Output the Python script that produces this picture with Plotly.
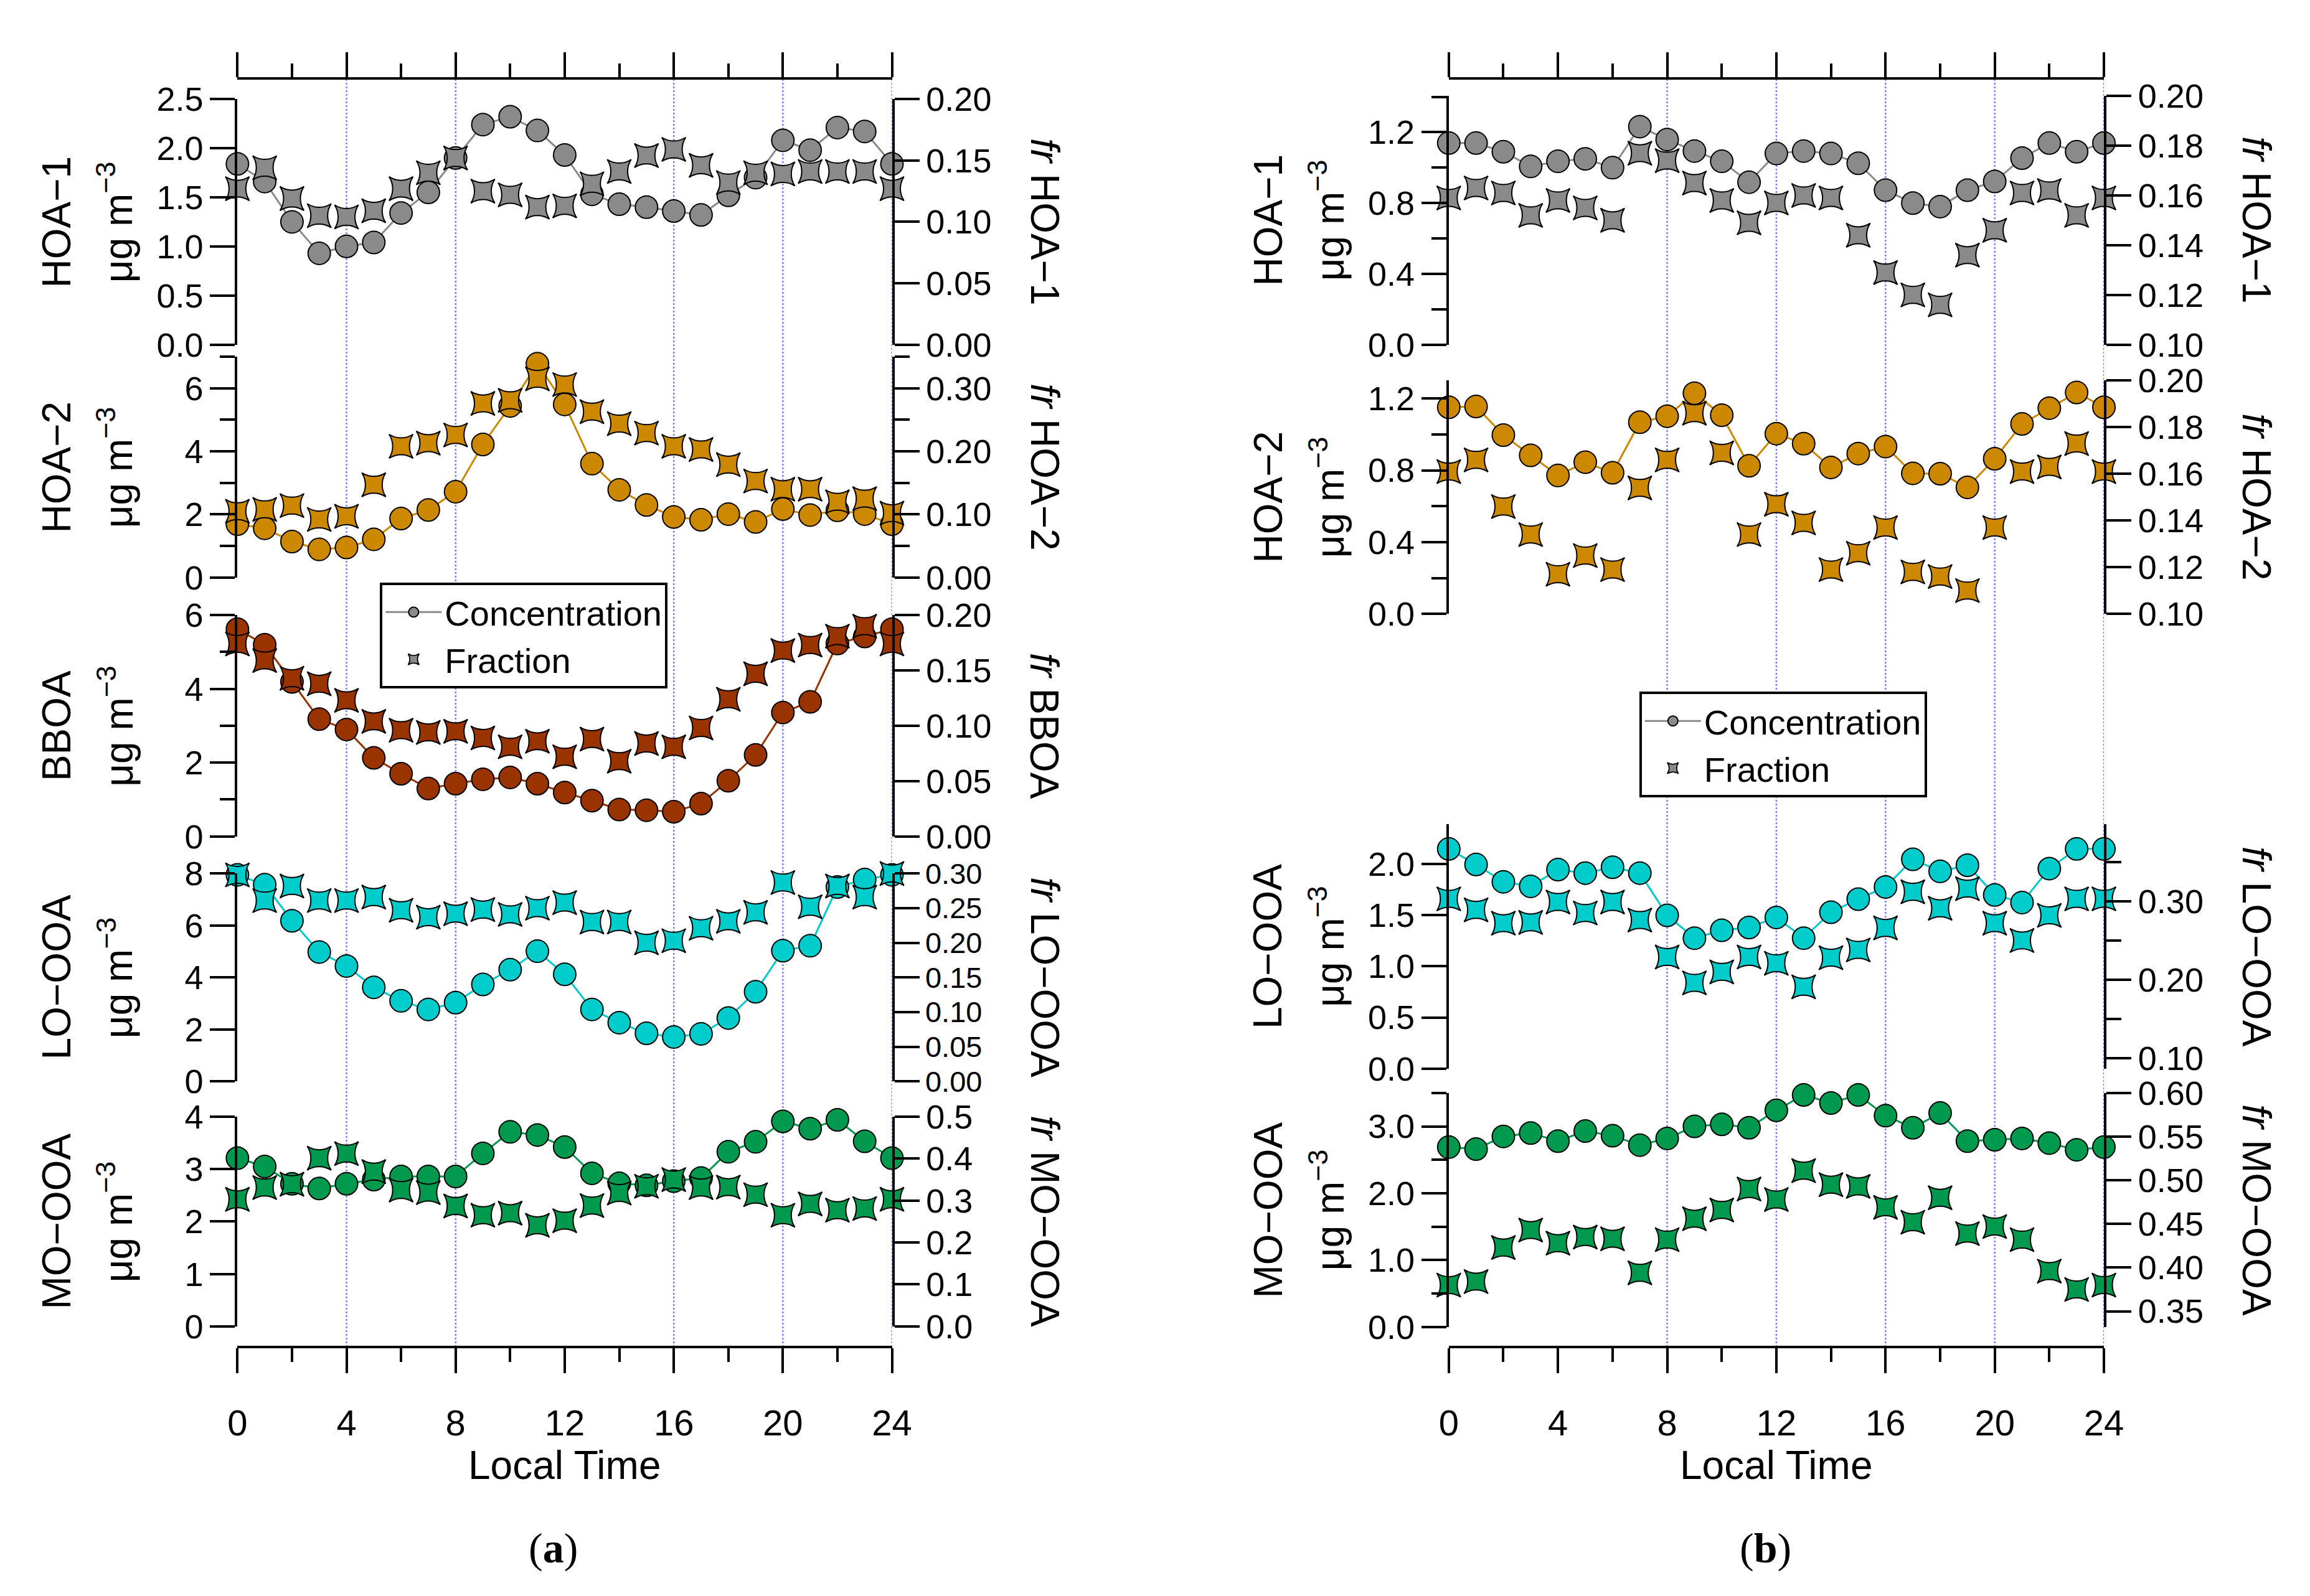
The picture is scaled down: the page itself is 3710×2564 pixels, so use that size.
import plotly.graph_objects as go

W, H = 3710, 2564

HOURS = list(range(25))

# ---- panel (a) ----
A_HOA1_CONC = [1.84, 1.66, 1.25, 0.93, 1.00, 1.04, 1.34, 1.55, 1.90, 2.24, 2.32, 2.18, 1.93,
               1.53, 1.43, 1.40, 1.36, 1.32, 1.52, 1.70, 2.08, 1.98, 2.21, 2.17, 1.84]
A_HOA1_FRAC = [0.127, 0.144, 0.119, 0.105, 0.104, 0.109, 0.127, 0.140, 0.152, 0.125, 0.122, 0.112, 0.113,
               0.131, 0.141, 0.154, 0.159, 0.146, 0.132, 0.140, 0.139, 0.141, 0.141, 0.141, 0.127]
A_HOA2_CONC = [1.69, 1.56, 1.14, 0.89, 0.95, 1.21, 1.87, 2.14, 2.72, 4.22, 5.44, 6.78, 5.49,
               3.61, 2.78, 2.30, 1.92, 1.83, 2.01, 1.76, 2.17, 1.98, 2.13, 2.01, 1.69]
A_HOA2_FRAC = [0.105, 0.108, 0.114, 0.092, 0.097, 0.147, 0.208, 0.213, 0.226, 0.276, 0.281, 0.315, 0.306,
               0.263, 0.244, 0.229, 0.208, 0.203, 0.179, 0.153, 0.140, 0.140, 0.120, 0.125, 0.102]
A_BBOA_CONC = [5.62, 5.20, 4.19, 3.18, 2.90, 2.13, 1.70, 1.30, 1.43, 1.55, 1.60, 1.43, 1.19,
               0.97, 0.73, 0.71, 0.67, 0.89, 1.51, 2.21, 3.36, 3.65, 5.23, 5.42, 5.62]
A_BBOA_FRAC = [0.174, 0.159, 0.143, 0.138, 0.123, 0.104, 0.096, 0.094, 0.095, 0.089, 0.081, 0.086, 0.072,
               0.088, 0.068, 0.084, 0.081, 0.098, 0.124, 0.147, 0.168, 0.173, 0.181, 0.190, 0.174]
A_LOOOA_CONC = [7.95, 7.57, 6.18, 4.98, 4.44, 3.62, 3.10, 2.77, 3.03, 3.73, 4.30, 5.01, 4.12,
                2.77, 2.26, 1.85, 1.71, 1.83, 2.44, 3.45, 5.03, 5.22, 7.48, 7.77, 7.95]
A_LOOOA_FRAC = [0.298, 0.261, 0.282, 0.261, 0.261, 0.266, 0.247, 0.237, 0.242, 0.248, 0.241, 0.250, 0.258,
                0.230, 0.230, 0.200, 0.203, 0.221, 0.231, 0.244, 0.287, 0.252, 0.282, 0.266, 0.300]
A_MOOOA_CONC = [3.21, 3.05, 2.72, 2.63, 2.72, 2.80, 2.86, 2.86, 2.86, 3.30, 3.71, 3.65, 3.42,
                2.92, 2.73, 2.69, 2.77, 2.83, 3.33, 3.52, 3.91, 3.77, 3.94, 3.53, 3.21]
A_MOOOA_FRAC = [0.303, 0.331, 0.339, 0.401, 0.412, 0.369, 0.325, 0.319, 0.287, 0.265, 0.270, 0.241, 0.252,
                0.288, 0.318, 0.334, 0.350, 0.331, 0.332, 0.314, 0.265, 0.292, 0.277, 0.281, 0.303]

# ---- panel (b) ----
B_HOA1_CONC = [1.139, 1.139, 1.090, 1.007, 1.036, 1.050, 1.000, 1.232, 1.159, 1.094, 1.036, 0.918, 1.080,
               1.094, 1.080, 1.025, 0.873, 0.800, 0.780, 0.873, 0.922, 1.054, 1.139, 1.090, 1.139]
B_HOA1_FRAC = [0.159, 0.163, 0.161, 0.152, 0.158, 0.155, 0.150, 0.177, 0.174, 0.165, 0.158, 0.149, 0.157,
               0.160, 0.159, 0.144, 0.129, 0.120, 0.116, 0.136, 0.146, 0.161, 0.162, 0.152, 0.159]
B_HOA2_CONC = [1.151, 1.155, 0.996, 0.883, 0.771, 0.845, 0.786, 1.068, 1.101, 1.229, 1.107, 0.825, 1.004,
               0.948, 0.816, 0.893, 0.932, 0.783, 0.781, 0.705, 0.864, 1.058, 1.146, 1.233, 1.151]
B_HOA2_FRAC = [0.161, 0.166, 0.146, 0.134, 0.117, 0.125, 0.119, 0.154, 0.166, 0.186, 0.169, 0.134, 0.147,
               0.139, 0.119, 0.126, 0.137, 0.118, 0.116, 0.110, 0.137, 0.161, 0.163, 0.173, 0.161]
B_LOOOA_CONC = [2.145, 1.993, 1.824, 1.780, 1.943, 1.909, 1.966, 1.909, 1.497, 1.274, 1.351, 1.378, 1.476,
                1.274, 1.527, 1.655, 1.774, 2.044, 1.926, 1.986, 1.696, 1.622, 1.953, 2.145, 2.145]
B_LOOOA_FRAC = [0.303, 0.289, 0.272, 0.273, 0.299, 0.285, 0.299, 0.276, 0.229, 0.196, 0.210, 0.229, 0.221,
                0.191, 0.228, 0.238, 0.266, 0.312, 0.291, 0.316, 0.272, 0.250, 0.282, 0.303, 0.303]
B_MOOOA_CONC = [2.69, 2.66, 2.85, 2.90, 2.78, 2.93, 2.86, 2.72, 2.82, 3.00, 3.03, 2.98, 3.24,
                3.47, 3.35, 3.47, 3.16, 2.98, 3.20, 2.78, 2.80, 2.82, 2.75, 2.65, 2.69]
B_MOOOA_FRAC = [0.380, 0.384, 0.423, 0.443, 0.428, 0.435, 0.433, 0.394, 0.432, 0.456, 0.466, 0.490, 0.478,
                0.511, 0.495, 0.493, 0.469, 0.452, 0.480, 0.439, 0.447, 0.432, 0.396, 0.375, 0.380]

X_TICKS = [0, 4, 8, 12, 16, 20, 24]
GRID_A = [4, 8, 16, 20, 24]   # dotted hour lines drawn in (a)
GRID_B = [8, 12, 16, 20, 24]  # dotted hour lines drawn in (b)

COLORS = {"HOA−1": "#8a8a8a", "HOA−2": "#cc8800", "BBOA": "#993300",
          "LO−OOA": "#00cccc", "MO−OOA": "#00994d"}

FONT = "Liberation Sans, Arial, sans-serif"
TICK_SIZE = 54
TITLE_SIZE = 64


def fx(p):
    return p / W


def fy(p):
    return 1 - p / H


fig = go.Figure()
lay = {}
notes = []
shapes = []


def yaxis_cfg(top, bot, rng, dtick, tick0, minor, fmt, side, overlay=None, fsize=TICK_SIZE):
    cfg = dict(domain=[fy(bot), fy(top)], range=rng, dtick=dtick, tick0=tick0,
               tickformat=fmt, side=side, showline=True, linecolor="black",
               linewidth=4, ticks="outside", ticklen=40, tickwidth=4, tickcolor="black",
               showgrid=False, zeroline=False,
               tickfont=dict(family=FONT, size=fsize, color="black"))
    if minor:
        cfg["minor"] = dict(dtick=minor, tick0=tick0, ticks="outside", ticklen=24,
                            tickwidth=4, tickcolor="black", showgrid=False)
    if overlay:
        cfg["overlaying"] = overlay
    return cfg


def add_panel(col, n, name, conc, frac, top, bot, left, right, legend=None, rsize=TICK_SIZE):
    xref, xl, xr = col
    yl = "y" if n == 1 else f"y{n}"
    yr = f"y{n + 1}"
    kl = "yaxis" if n == 1 else f"yaxis{n}"
    kr = f"yaxis{n + 1}"
    lay[kl] = yaxis_cfg(top, bot, *left, side="left")
    lay[kl]["anchor"] = xref
    lay[kr] = yaxis_cfg(top, bot, *right, side="right", overlay=yl, fsize=rsize)
    lay[kr]["anchor"] = xref
    c = COLORS[name]
    fig.add_trace(go.Scatter(
        x=HOURS, y=conc, xaxis=xref, yaxis=yl, mode="lines+markers", name="Concentration",
        line=dict(color=c, width=3),
        marker=dict(symbol="circle", size=36, color=c, line=dict(color="black", width=2)),
        cliponaxis=False, showlegend=legend is not None, legend=legend or "legend"))
    fig.add_trace(go.Scatter(
        x=HOURS, y=frac, xaxis=xref, yaxis=yr, mode="markers", name="Fraction",
        marker=dict(symbol="star-square", size=35, color=c, line=dict(color="black", width=2)),
        cliponaxis=False, showlegend=legend is not None, legend=legend or "legend"))
    mid = fy((top + bot) / 2)
    notes.append(dict(x=fx(xl - 294), y=mid, text=name, textangle=-90,
                      font=dict(family=FONT, size=TITLE_SIZE)))
    notes.append(dict(x=fx(xl - 198), y=mid, text="μg m<sup>−3</sup>", textangle=-90,
                      font=dict(family=FONT, size=TITLE_SIZE)))
    notes.append(dict(x=fx(xr + 248), y=mid, text=f"<i>fr</i> {name}", textangle=90,
                      font=dict(family=FONT, size=TITLE_SIZE)))


COL_A = ("x", 362, 1427)
COL_B = ("x2", 2333, 3399)

# (a)
add_panel(COL_A, 1, "HOA−1", A_HOA1_CONC, A_HOA1_FRAC, 124, 528,
          ([0, 2.5001], 0.5, 0, None, ".1f"), ([0, 0.20001], 0.05, 0, None, ".2f"), legend="legend")
add_panel(COL_A, 3, "HOA−2", A_HOA2_CONC, A_HOA2_FRAC, 548, 911,
          ([0, 7.0001], 2, 0, 1, "d"), ([0, 0.35001], 0.1, 0, 0.05, ".2f"))
add_panel(COL_A, 5, "BBOA", A_BBOA_CONC, A_BBOA_FRAC, 973, 1337,
          ([0, 6.0001], 2, 0, 1, "d"), ([0, 0.20001], 0.05, 0, None, ".2f"))
add_panel(COL_A, 7, "LO−OOA", A_LOOOA_CONC, A_LOOOA_FRAC, 1398, 1740,
          ([0, 8.0001], 2, 0, None, "d"), ([0, 0.30001], 0.05, 0, None, ".2f"), rsize=47)
add_panel(COL_A, 9, "MO−OOA", A_MOOOA_CONC, A_MOOOA_FRAC, 1798, 2143,
          ([0, 4.0001], 1, 0, None, "d"), ([0, 0.50001], 0.1, 0, None, ".1f"))

# (b)
add_panel(COL_B, 11, "HOA−1", B_HOA1_CONC, B_HOA1_FRAC, 119, 528,
          ([0, 1.405], 0.4, 0, 0.2, ".1f"), ([0.1, 0.20001], 0.02, 0.1, None, ".2f"), legend="legend2")
add_panel(COL_B, 13, "HOA−2", B_HOA2_CONC, B_HOA2_FRAC, 587, 971,
          ([0, 1.3], 0.4, 0, 0.2, ".1f"), ([0.1, 0.20001], 0.02, 0.1, None, ".2f"))
add_panel(COL_B, 15, "LO−OOA", B_LOOOA_CONC, B_LOOOA_FRAC, 1317, 1719,
          ([0, 2.386], 0.5, 0, None, ".1f"), ([0.0868, 0.398], 0.1, 0.1, 0.05, ".2f"))
add_panel(COL_B, 17, "MO−OOA", B_MOOOA_CONC, B_MOOOA_FRAC, 1759, 2144,
          ([0, 3.5001], 1, 0, 0.5, ".1f"), ([0.332, 0.60001], 0.05, 0.35, None, ".2f"))

X_BOTTOM = 2177
X_TOP = 90


def xaxis_cfg(xl, xr, side, labels, overlay=None):
    cfg = dict(domain=[fx(xl), fx(xr)], range=[0, 24], tickvals=X_TICKS, side=side,
               anchor="free", position=fy(X_BOTTOM if side == "bottom" else X_TOP),
               showline=True, linecolor="black", linewidth=4, ticks="outside",
               ticklen=40, tickwidth=4, tickcolor="black", showticklabels=labels,
               ticklabelstandoff=30, showgrid=False, zeroline=False,
               tickfont=dict(family=FONT, size=58, color="black"),
               minor=dict(dtick=2, ticks="outside", ticklen=22, tickwidth=4,
                          tickcolor="black", showgrid=False))
    if overlay:
        cfg["overlaying"] = overlay
    return cfg


lay["xaxis"] = xaxis_cfg(362, 1427, "bottom", True)
lay["xaxis2"] = xaxis_cfg(2333, 3399, "bottom", True)
lay["xaxis3"] = xaxis_cfg(362, 1427, "top", False, overlay="x")
lay["xaxis4"] = xaxis_cfg(2333, 3399, "top", False, overlay="x2")

# empty traces so the top axes get drawn
fig.add_trace(go.Scatter(x=[], y=[], xaxis="x3", yaxis="y", showlegend=False))
fig.add_trace(go.Scatter(x=[], y=[], xaxis="x4", yaxis="y11", showlegend=False))

for xref, hours in (("x", GRID_A), ("x2", GRID_B)):
    for h in hours:
        shapes.append(dict(type="line", xref=xref, yref="paper", x0=h, x1=h,
                           y0=fy(X_BOTTOM), y1=fy(X_TOP), layer="below",
                           line=dict(color="#7f7fff", width=2.5, dash="dot")))

for xc, label in ((894, "a"), (2866, "b")):
    notes.append(dict(x=fx(xc), y=fy(2372), text="Local Time",
                      font=dict(family=FONT, size=TITLE_SIZE)))
    notes.append(dict(x=fx(xc - 18), y=fy(2508), text=f"(<b>{label}</b>)",
                      font=dict(family="Liberation Serif, Times New Roman, serif", size=68)))

for a in notes:
    a.update(xref="paper", yref="paper", showarrow=False, xanchor="center", yanchor="middle")
    a["font"]["color"] = "black"

legend_style = dict(xanchor="left", yanchor="top", bgcolor="white", bordercolor="black",
                    borderwidth=4, font=dict(family=FONT, size=56, color="black"),
                    tracegroupgap=0, itemsizing="trace", itemwidth=90)

fig.update_layout(
    width=W, height=H,
    margin=dict(l=0, r=0, t=0, b=0),
    paper_bgcolor="white", plot_bgcolor="rgba(0,0,0,0)",
    showlegend=True,
    legend=dict(x=fx(594), y=fy(920), **legend_style),
    legend2=dict(x=fx(2643), y=fy(1099), **legend_style),
    annotations=notes, shapes=shapes,
    **lay,
)

fig.write_html("out.html")
